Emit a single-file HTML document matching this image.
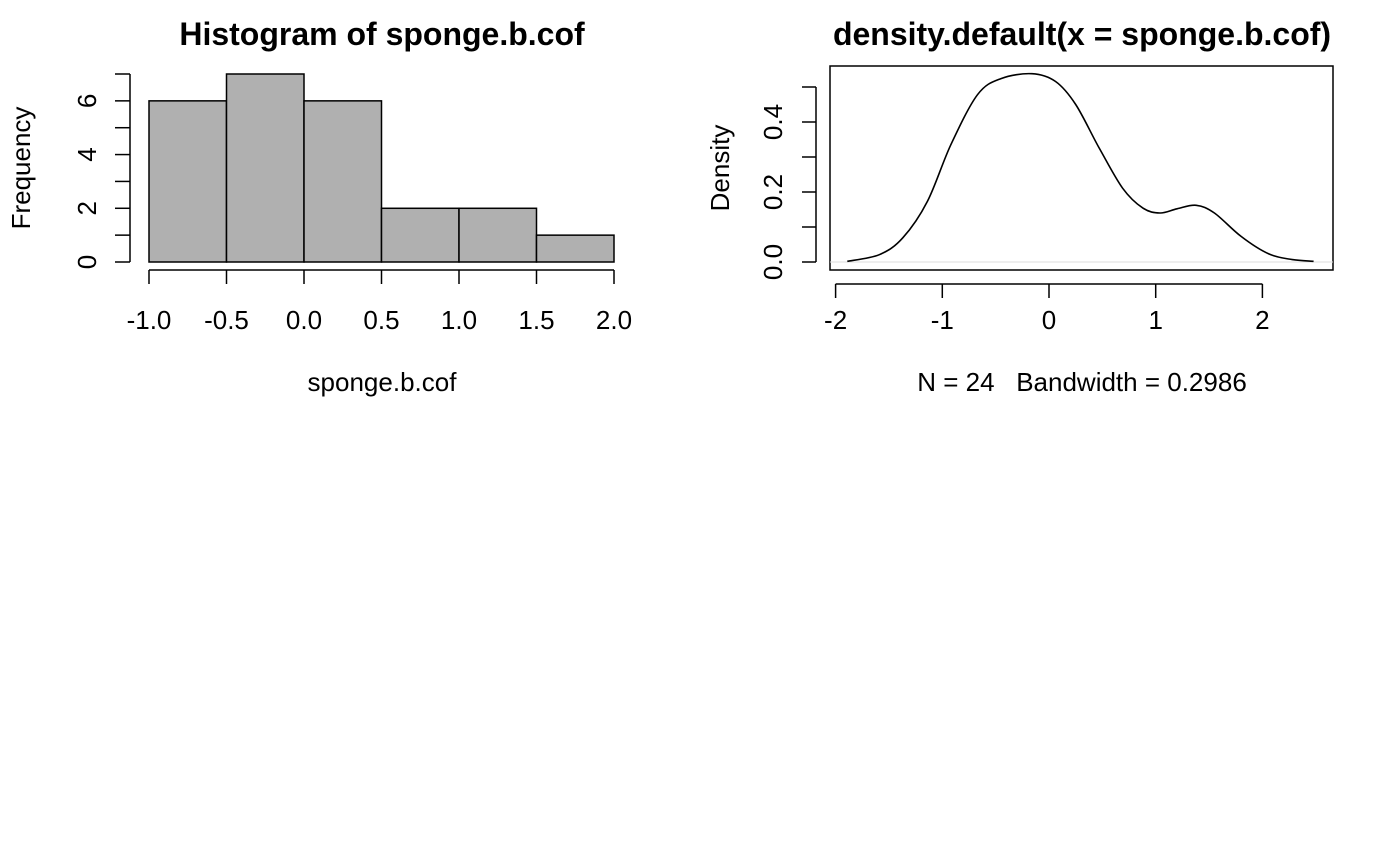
<!DOCTYPE html>
<html><head><meta charset="utf-8"><style>
html,body{margin:0;padding:0;background:#fff;}
svg{display:block;font-family:"Liberation Sans",Arial,sans-serif;}
</style></head><body>
<svg id="chart" width="1400" height="865" viewBox="0 0 1400 865">
<g id="hist"></g>
<g id="dens"></g>
</svg>
<script>
const histBreaks = [-1.0,-0.5,0.0,0.5,1.0,1.5,2.0];
const histCounts = [6,7,6,2,2,1];
const histXTicks = ["-1.0","-0.5","0.0","0.5","1.0","1.5","2.0"];
const histYTicks = [0,2,4,6];
const densX = [-1.89,-1.59,-1.37,-1.14,-0.92,-0.67,-0.45,-0.16,0.06,0.25,0.47,0.69,0.88,1.04,1.20,1.38,1.55,1.80,2.06,2.28,2.48];
const densY = [0.002,0.021,0.069,0.173,0.335,0.478,0.524,0.538,0.516,0.45,0.326,0.211,0.154,0.14,0.152,0.162,0.14,0.073,0.023,0.007,0.002];
const densXTicks = [-2,-1,0,1,2];
const densYTicks = ["0.0","0.2","0.4"];
const densYTickVals = [0,0.2,0.4];

const NS="http://www.w3.org/2000/svg";
const FS=26, TFS=32;
function mk(parent,tag,attrs,text){const e=document.createElementNS(NS,tag);for(const k in attrs)e.setAttribute(k,attrs[k]);if(text!==undefined)e.textContent=text;parent.appendChild(e);return e;}

// Histogram
const H=document.getElementById('hist');
const hx=v=>149+(v+1)*(614-149)/3;
const hy=v=>262-v*(262-74)/7;
histCounts.forEach((c,i)=>{
  const r=mk(H,'rect',{x:hx(histBreaks[i]),y:hy(c),width:hx(histBreaks[i+1])-hx(histBreaks[i]),height:hy(0)-hy(c),fill:'#b0b0b0',stroke:'#000','stroke-width':1.5});
  
  
});
let ax=mk(H,'line',{x1:hx(-1),x2:hx(2),y1:270,y2:270,stroke:'#000','stroke-width':1.5});

histBreaks.forEach((b,i)=>{
  mk(H,'line',{x1:hx(b),x2:hx(b),y1:270,y2:284,stroke:'#000','stroke-width':1.5});
  const t=mk(H,'text',{x:hx(b),y:329,'text-anchor':'middle','font-size':FS},histXTicks[i]);
  
});
ax=mk(H,'line',{x1:130,x2:130,y1:hy(0),y2:hy(7),stroke:'#000','stroke-width':1.5});

for(let v=0;v<=7;v++) mk(H,'line',{x1:115,x2:130,y1:hy(v),y2:hy(v),stroke:'#000','stroke-width':1.5});
histYTicks.forEach(v=>{
  const t=mk(H,'text',{x:0,y:0,'text-anchor':'middle','font-size':FS,transform:`translate(96,${hy(v)}) rotate(-90)`},String(v));
  
});
let t=mk(H,'text',{x:382,y:45,'text-anchor':'middle','font-size':TFS,'font-weight':'bold'},'Histogram of sponge.b.cof');

t=mk(H,'text',{x:382,y:391,'text-anchor':'middle','font-size':FS},'sponge.b.cof');

t=mk(H,'text',{x:0,y:0,'text-anchor':'middle','font-size':FS,transform:'translate(30,168) rotate(-90)'},'Frequency');


// Density
const D=document.getElementById('dens');
const dx=v=>1049+v*106.7;
const dy=v=>262-v*350;
let b=mk(D,'rect',{x:830,y:66,width:503,height:204,fill:'none',stroke:'#000','stroke-width':1.5});

let z=mk(D,'line',{x1:830,x2:1333,y1:dy(0),y2:dy(0),stroke:'#ddd','stroke-width':1});

const P=densX.map((x,i)=>[dx(x),dy(densY[i])]);
let d='M'+P[0][0].toFixed(1)+','+P[0][1].toFixed(1);
for(let i=0;i<P.length-1;i++){
  const p0=P[Math.max(0,i-1)],p1=P[i],p2=P[i+1],p3=P[Math.min(P.length-1,i+2)];
  const c1=[p1[0]+(p2[0]-p0[0])/6,p1[1]+(p2[1]-p0[1])/6];
  const c2=[p2[0]-(p3[0]-p1[0])/6,p2[1]-(p3[1]-p1[1])/6];
  d+=` C${c1[0].toFixed(1)},${c1[1].toFixed(1)} ${c2[0].toFixed(1)},${c2[1].toFixed(1)} ${p2[0].toFixed(1)},${p2[1].toFixed(1)}`;
}
let p=mk(D,'path',{d:d,fill:'none',stroke:'#000','stroke-width':1.6,'stroke-linejoin':'round'});

ax=mk(D,'line',{x1:dx(-2),x2:dx(2),y1:284,y2:284,stroke:'#000','stroke-width':1.5});

densXTicks.forEach(v=>{
  mk(D,'line',{x1:dx(v),x2:dx(v),y1:284,y2:298,stroke:'#000','stroke-width':1.5});
  const tt=mk(D,'text',{x:dx(v),y:329,'text-anchor':'middle','font-size':FS},String(v));
  
});
ax=mk(D,'line',{x1:816,x2:816,y1:dy(0),y2:dy(0.5),stroke:'#000','stroke-width':1.5});

for(let k=0;k<=5;k++) mk(D,'line',{x1:802,x2:816,y1:dy(k/10),y2:dy(k/10),stroke:'#000','stroke-width':1.5});
densYTickVals.forEach((v,i)=>{
  const tt=mk(D,'text',{x:0,y:0,'text-anchor':'middle','font-size':FS,transform:`translate(782,${dy(v)}) rotate(-90)`},densYTicks[i]);
  
});
t=mk(D,'text',{x:1082,y:45,'text-anchor':'middle','font-size':TFS,'font-weight':'bold'},'density.default(x = sponge.b.cof)');

t=mk(D,'text',{x:1082,y:391,'text-anchor':'middle','font-size':FS},'N = 24\u00a0\u00a0\u00a0Bandwidth = 0.2986');

t=mk(D,'text',{x:0,y:0,'text-anchor':'middle','font-size':FS,transform:'translate(729,168) rotate(-90)'},'Density');

</script>
</body></html>
